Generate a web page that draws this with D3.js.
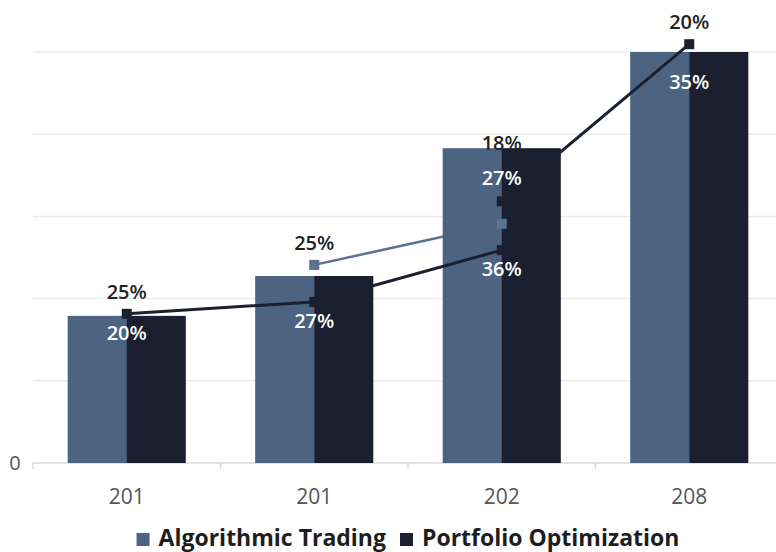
<!DOCTYPE html>
<html lang="en">
<head>
    <meta charset="UTF-8">
    <title>Algorithmic Trading vs Portfolio Optimization</title>
    <script src="https://cdn.jsdelivr.net/npm/d3@7"></script>
    <style>
        body { margin: 0; background: #fff; }
        text { font-family: "Open Sans", "Noto Sans", sans-serif; }
    </style>
</head>
<body>
<script type="text/javascript">
    // chart values
    var categories = ['201', '201', '202', '208'];
    var tradingBars = [35.8, 45.5, 76.6, 100];
    var optimizationBars = [35.8, 45.5, 76.6, 100];
    var tradingLine = [null, 48.2, 58.2, null];
    var optimizationLine = [36.3, 39.2, 51.8, null];
    var optimizationTrend = [null, null, 63.7, 101.9];
    var upperLabels = ['25%', '25%', '18%', '20%'];
    var lowerLabels = ['20%', '27%', '36%', null];
    var barTopLabels = [null, null, '27%', '35%'];
    var yTicks = [0, 20, 40, 60, 80, 100];
    var seriesNames = ['Algorithmic Trading', 'Portfolio Optimization'];

    var width = 776;
    var height = 552;
    var blue = '#4c6482';
    var dark = '#1b2030';
    var blueLine = '#587290';

    var svg = d3.select('body').append('svg')
            .attr('width', width)
            .attr('height', height);

    var idx = d3.range(categories.length);
    var x = d3.scaleBand()
            .domain(idx)
            .range([33, 783])
            .paddingInner(0.37)
            .paddingOuter(0.185);
    var xSub = d3.scaleBand()
            .domain([0, 1])
            .range([0, x.bandwidth()]);
    var y = d3.scaleLinear()
            .domain([0, 100])
            .range([463, 52]);
    var cx = function (i) { return x(i) + x.bandwidth() / 2; };

    // grid lines
    svg.append('g')
            .selectAll('line')
            .data(yTicks)
            .enter()
            .append('line')
            .attr('x1', 33)
            .attr('x2', width)
            .attr('y1', function (d) { return y(d); })
            .attr('y2', function (d) { return y(d); })
            .attr('stroke', function (d) { return d === 0 ? '#d8d8d8' : '#ebebeb'; })
            .attr('stroke-width', 1.5);

    // y axis: only zero is labelled
    svg.append('text')
            .attr('x', 15)
            .attr('y', y(0))
            .attr('dy', '0.35em')
            .attr('text-anchor', 'middle')
            .attr('fill', '#555')
            .attr('font-size', '20px')
            .text('0');

    // x axis
    var xAxis = d3.axisBottom(x)
            .tickSize(0)
            .tickPadding(26)
            .tickFormat(function (i) { return categories[i]; });
    var gx = svg.append('g')
            .attr('transform', 'translate(0,' + y(0) + ')')
            .call(xAxis);
    gx.select('.domain').remove();
    gx.selectAll('text')
            .attr('fill', '#555')
            .attr('font-size', '21px')
            .attr('font-family', '"Open Sans", sans-serif');
    // small separators between groups
    svg.append('g')
            .selectAll('line')
            .data(idx)
            .enter()
            .append('line')
            .attr('x1', function (i) { return x(i) - x.step() * x.paddingInner() / 2; })
            .attr('x2', function (i) { return x(i) - x.step() * x.paddingInner() / 2; })
            .attr('y1', y(0))
            .attr('y2', y(0) + 6)
            .attr('stroke', '#d8d8d8')
            .attr('stroke-width', 1.5);

    var line = d3.line()
            .defined(function (d) { return d !== null; })
            .x(function (d, i) { return cx(i); })
            .y(function (d) { return y(d); });

    // the trading line sits behind the bars
    svg.append('path')
            .datum(tradingLine)
            .attr('d', line)
            .attr('fill', 'none')
            .attr('stroke', blueLine)
            .attr('stroke-width', 2.5);

    // bars
    var barSeries = [tradingBars, optimizationBars];
    var barColors = [blue, dark];
    barSeries.forEach(function (values, s) {
        svg.append('g')
                .selectAll('rect')
                .data(values)
                .enter()
                .append('rect')
                .attr('x', function (d, i) { return x(i) + xSub(s); })
                .attr('width', xSub.bandwidth() + (s === 0 ? 0.5 : 0))
                .attr('y', function (d) { return y(d); })
                .attr('height', function (d) { return y(0) - y(d); })
                .attr('fill', barColors[s]);
    });

    // optimization lines over the bars
    [optimizationLine, optimizationTrend].forEach(function (values) {
        svg.append('path')
                .datum(values)
                .attr('d', line)
                .attr('fill', 'none')
                .attr('stroke', dark)
                .attr('stroke-width', 3);
    });

    // square markers
    var markerSeries = [
        {values: tradingLine, color: blueLine},
        {values: optimizationLine, color: dark},
        {values: optimizationTrend, color: dark}
    ];
    markerSeries.forEach(function (ms) {
        svg.append('g')
                .selectAll('rect')
                .data(ms.values.map(function (v, i) { return {v: v, i: i}; })
                        .filter(function (d) { return d.v !== null; }))
                .enter()
                .append('rect')
                .attr('x', function (d) { return cx(d.i) - 5; })
                .attr('y', function (d) { return y(d.v) - 5; })
                .attr('width', 10)
                .attr('height', 10)
                .attr('fill', ms.color);
    });

    // labels
    function topPoint(i) {
        var vals = [tradingLine[i], optimizationLine[i], optimizationTrend[i]]
                .filter(function (v) { return v !== null; });
        return d3.max(vals);
    }
    var labels = [];
    idx.forEach(function (i) {
        var top = topPoint(i);
        var barTop = Math.max(tradingBars[i], optimizationBars[i]);
        if (upperLabels[i]) {
            labels.push({i: i, text: upperLabels[i], color: '#222',
                y: top > barTop ? y(top) - 22 : y(barTop) - 5});
        }
        if (lowerLabels[i]) {
            labels.push({i: i, text: lowerLabels[i], color: '#fff',
                y: y(optimizationLine[i]) + 19});
        }
        if (barTopLabels[i]) {
            labels.push({i: i, text: barTopLabels[i], color: '#fff',
                y: y(barTop) + 30});
        }
    });
    svg.append('g')
            .selectAll('text')
            .data(labels)
            .enter()
            .append('text')
            .attr('x', function (d) { return cx(d.i); })
            .attr('y', function (d) { return d.y; })
            .attr('dy', '0.35em')
            .attr('text-anchor', 'middle')
            .attr('fill', function (d) { return d.color; })
            .attr('font-size', '20px')
            .attr('font-weight', 600)
            .text(function (d) { return d.text; });

    // legend, centred under the plot
    var legend = svg.append('g')
            .attr('transform', 'translate(0,538)');
    var items = legend.selectAll('g')
            .data(seriesNames)
            .enter()
            .append('g');
    items.append('rect')
            .attr('width', 13)
            .attr('height', 13)
            .attr('y', -5)
            .attr('fill', function (d, i) { return barColors[i]; });
    items.append('text')
            .attr('x', 22)
            .attr('dy', '0.35em')
            .attr('fill', '#1e1e1e')
            .attr('font-size', '23px')
            .attr('font-weight', 700)
            .text(function (d) { return d; });
    var widths = [];
    items.each(function () {
        widths.push(this.getBBox().width);
    });
    var gap = 14;
    var total = d3.sum(widths) + gap * (widths.length - 1);
    var offset = (33 + 783) / 2 - total / 2;
    items.attr('transform', function (d, i) {
        var pos = offset + d3.sum(widths.slice(0, i)) + gap * i;
        return 'translate(' + pos + ',0)';
    });
</script>
</body>
</html>
